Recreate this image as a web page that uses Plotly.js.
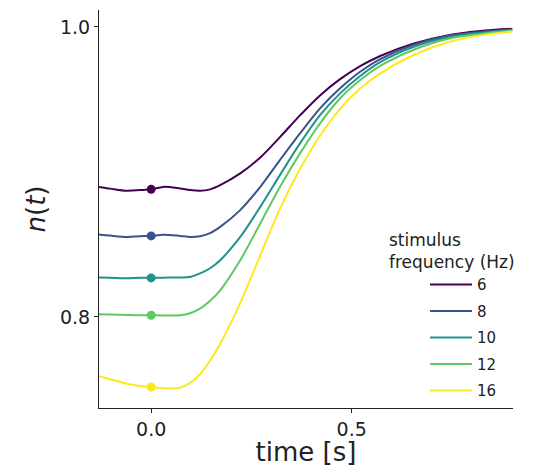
<!DOCTYPE html>
<html>
<head>
<meta charset="utf-8">
<script src="https://cdn.plot.ly/plotly-3.0.1.min.js"></script>
<style>html,body{margin:0;padding:0;background:#fff;}#chart{width:539px;height:467px;}</style>
</head>
<body>
<div id="chart"></div>
<script>
// time axis (s)
const time = [-0.13,-0.102,-0.06,-0.027,0,0.03,0.072,0.097,0.122,0.147,0.172,0.222,0.272,0.321,0.371,0.421,0.471,0.521,0.571,0.653,0.738,0.82,0.9];
// n(t) per stimulus frequency
const n6  = [0.8897,0.8885,0.8870,0.8875,0.8880,0.8897,0.8886,0.8875,0.8870,0.8880,0.8909,0.8990,0.9100,0.9240,0.9390,0.9528,0.9640,0.9730,0.9800,0.9885,0.9942,0.9972,0.9988];
const n8  = [0.8569,0.8561,0.8552,0.8557,0.8559,0.8567,0.8559,0.8552,0.8557,0.8578,0.8621,0.8737,0.8897,0.9082,0.9266,0.9439,0.9577,0.9691,0.9779,0.9876,0.9938,0.9965,0.9983];
const n10 = [0.8272,0.8271,0.8267,0.8271,0.8269,0.8271,0.8272,0.8276,0.8300,0.8336,0.8391,0.8552,0.8759,0.8978,0.9197,0.9392,0.9542,0.9662,0.9758,0.9862,0.9928,0.9959,0.9979];
const n12 = [0.8019,0.8017,0.8014,0.8012,0.8012,0.8010,0.8012,0.8026,0.8058,0.8112,0.8184,0.8391,0.8645,0.8897,0.9128,0.9335,0.9508,0.9634,0.9731,0.9841,0.9917,0.9952,0.9976];
const n16 = [0.7591,0.7570,0.7539,0.7523,0.7517,0.7508,0.7512,0.7545,0.7605,0.7700,0.7815,0.8095,0.8425,0.8745,0.9020,0.9250,0.9435,0.9575,0.9680,0.9805,0.9893,0.9942,0.9969];
const frequencies = ["6","8","10","12","16"];
const colors = ["#440154","#3b528b","#21918c","#5ec962","#fde725"];
const markerTime = 0;
const xTicks = [0, 0.5];
const xTickText = ["0.0","0.5"];
const yTicks = [0.8, 1.0];
const yTickText = ["0.8","1.0"];

const series = [n6, n8, n10, n12, n16];
const iMark = time.indexOf(markerTime);
const traces = [];
series.forEach((s, i) => {
  traces.push({
    x: time, y: s, type: 'scatter', mode: 'lines', name: frequencies[i],
    legendgroup: 'g' + i,
    line: {color: colors[i], width: 2, shape: 'spline', smoothing: 0.9},
    hoverinfo: 'skip'
  });
});
series.forEach((s, i) => {
  traces.push({
    x: [time[iMark]], y: [s[iMark]], type: 'scatter', mode: 'markers',
    legendgroup: 'g' + i,
    marker: {color: colors[i], size: 9}, showlegend: false, hoverinfo: 'skip'
  });
});

const font = "DejaVu Sans, sans-serif";
const layout = {
  width: 539, height: 467,
  margin: {l: 99, r: 26, t: 10, b: 59, pad: 0},
  paper_bgcolor: '#fff', plot_bgcolor: '#fff',
  showlegend: true,
  font: {family: font, color: '#222'},
  xaxis: {
    range: [-0.13, 0.902], showgrid: false, zeroline: false,
    showline: true, linecolor: '#222', linewidth: 1,
    ticks: 'outside', ticklen: 4, tickcolor: '#222',
    tickvals: xTicks, ticktext: xTickText,
    tickfont: {size: 19, family: font, color: '#222'},
    title: {text: 'time [s]', font: {size: 26, family: font, color: '#222'}, standoff: 8}
  },
  yaxis: {
    range: [0.7372, 1.0117], showgrid: false, zeroline: false,
    showline: true, linecolor: '#222', linewidth: 1,
    ticks: 'outside', ticklen: 4, tickcolor: '#222',
    tickvals: yTicks, ticktext: yTickText,
    tickfont: {size: 19, family: font, color: '#222'},
    title: {text: '<i>n</i>(<i>t</i>)', font: {size: 26, family: font, color: '#222'}, standoff: 6}
  },
  legend: {
    xref: 'paper', yref: 'paper',
    xanchor: 'left', yanchor: 'top',
    bgcolor: 'rgba(0,0,0,0)', borderwidth: 0,
    font: {size: 15, family: font, color: '#222'},
    title: {text: 'stimulus<br>frequency (Hz)', side: 'top', font: {size: 17, family: font, color: '#222'}},
    indentation: 38,
    itemwidth: 42,
    tracegroupgap: 4
  }
};
layout.legend.x = (387 - 99) / (539 - 99 - 26);
layout.legend.y = 1 - (224 - 10) / (467 - 10 - 59);
Plotly.newPlot('chart', traces, layout, {displayModeBar: false, staticPlot: true});
</script>
</body>
</html>
